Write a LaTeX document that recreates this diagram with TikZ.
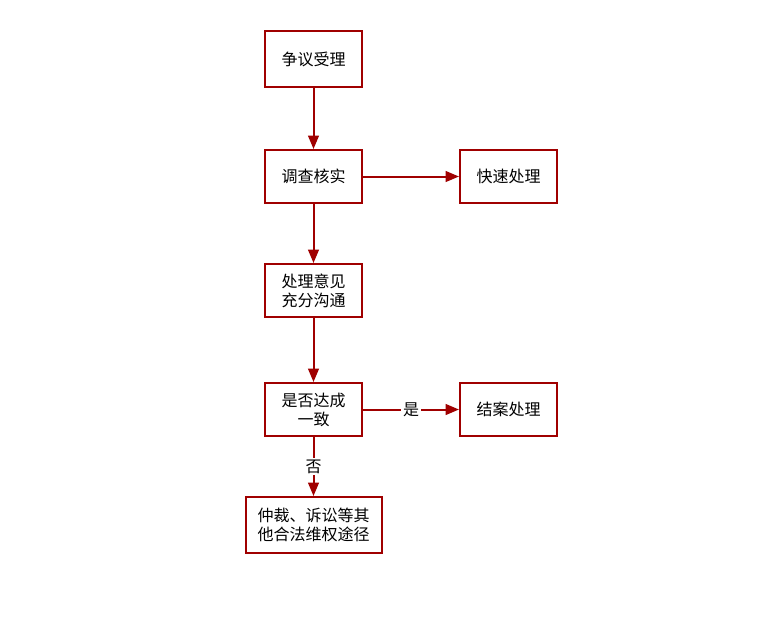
\documentclass[tikz,border=0pt]{standalone}
\usepackage{fontspec}
\setmainfont{Noto Sans CJK SC}
\usetikzlibrary{arrows.meta}
\definecolor{rojo}{HTML}{A00000}
\tikzset{
  caja/.style={draw=rojo, line width=1.5pt, align=center, font=\fontsize{12pt}{14.3pt}\selectfont,
    minimum width=72.75pt, inner sep=2pt},
  flecha/.style={rojo, line width=1.5pt, -{Triangle[length=10pt,width=8pt]}},
  etiqueta/.style={fill=white, inner sep=1.5pt, text=black, font=\fontsize{12pt}{13pt}\selectfont}
}
\begin{document}
\begin{tikzpicture}[x=0.75pt,y=-0.75pt]
    \useasboundingbox (0,0) rectangle (762,619);
    %Columna principal
    \node[caja, minimum height=42pt]    (acepta)   at (313.5,59)    {争议受理};
    \node[caja, minimum height=39.75pt] (investiga) at (313.5,176.5) {调查核实};
    \node[caja, minimum height=39.75pt] (comunica) at (313.5,290.5) {处理意见\\充分沟通};
    \node[caja, minimum height=39.75pt] (acuerdo)  at (313.5,409.5) {是否达成\\一致};
    \node[caja, minimum height=42pt, minimum width=102pt] (arbitraje) at (313.5,525) {仲裁、诉讼等其\\他合法维权途径};
    %Columna derecha
    \node[caja, minimum height=39.75pt] (rapido)   at (508.5,176.5) {快速处理};
    \node[caja, minimum height=39.75pt] (cierre)   at (508.5,409.5) {结案处理};
    \draw[flecha] (acepta) -- (investiga);
    \draw[flecha] (investiga) -- (rapido);
    \draw[flecha] (investiga) -- (comunica);
    \draw[flecha] (comunica) -- (acuerdo);
    \draw[flecha] (acuerdo) -- node[etiqueta] {是} (cierre);
    \draw[flecha] (acuerdo) -- node[etiqueta] {否} (arbitraje);
\end{tikzpicture}
\end{document}
